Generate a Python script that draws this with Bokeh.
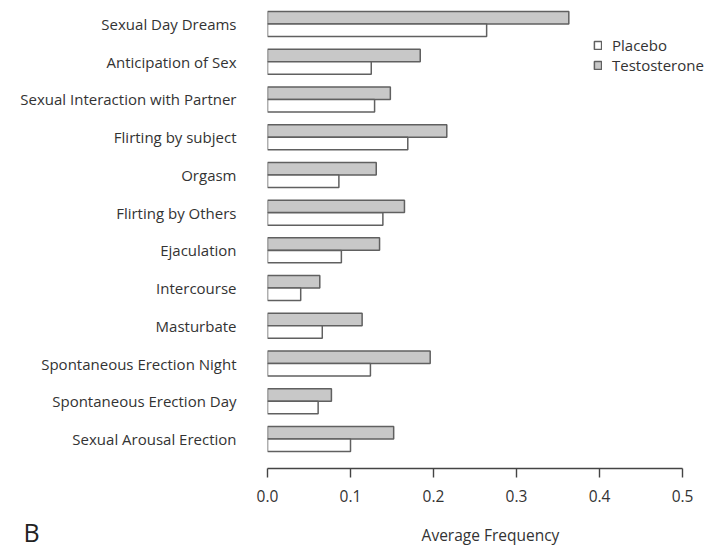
from bokeh.plotting import figure
from bokeh.models import (ColumnDataSource, Range1d, FixedTicker, Legend, LegendItem,
                          Title, NumeralTickFormatter)
from bokeh.transform import dodge
from bokeh.embed import file_html
from bokeh.resources import INLINE

categories = [
    "Sexual Day Dreams",
    "Anticipation of Sex",
    "Sexual Interaction with Partner",
    "Flirting by subject",
    "Orgasm",
    "Flirting by Others",
    "Ejaculation",
    "Intercourse",
    "Masturbate",
    "Spontaneous Erection Night",
    "Spontaneous Erection Day",
    "Sexual Arousal Erection",
]
placebo = [0.264, 0.125, 0.129, 0.169, 0.086, 0.139, 0.089, 0.040, 0.066, 0.124, 0.061, 0.100]
testosterone = [0.363, 0.184, 0.148, 0.216, 0.131, 0.165, 0.135, 0.063, 0.114, 0.196, 0.077, 0.152]
x_ticks = [0.0, 0.1, 0.2, 0.3, 0.4, 0.5]

n = len(categories)
pos = [n - 1 - i for i in range(n)]

src = ColumnDataSource(dict(cat=categories, pos=pos, placebo=placebo, testosterone=testosterone))

FONT = "Open Sans"
TXT = "#333333"

p = figure(width=713, height=550, output_backend="svg", toolbar_location=None,
           x_range=Range1d(0, 0.5373), y_range=Range1d(-0.782, n - 1 + 0.623),
           min_border_left=267, min_border_right=0, min_border_top=0, min_border_bottom=82)
p.outline_line_color = None
p.xgrid.visible = False
p.ygrid.visible = False
p.background_fill_color = "white"
p.border_fill_color = "white"

bar_h = 0.331
off = 0.166
rt = p.hbar(y=dodge("pos", off), right="testosterone", left=0, height=bar_h, source=src,
            fill_color="#c8c8c8", line_color="#606060", line_width=1.5)
rp = p.hbar(y=dodge("pos", -off), right="placebo", left=0, height=bar_h, source=src,
            fill_color="white", line_color="#606060", line_width=1.5)

# x axis
xa = p.xaxis[0]
xa.bounds = (0, 0.5)
xa.ticker = FixedTicker(ticks=x_ticks)
xa.formatter = NumeralTickFormatter(format="0.0")
xa.axis_line_color = "#444444"
xa.axis_line_width = 1.4
xa.major_tick_line_color = "#444444"
xa.major_tick_line_width = 1.4
xa.major_tick_in = 0
xa.major_tick_out = 9
xa.minor_tick_line_color = None
xa.major_label_standoff = 12
xa.major_label_text_font = FONT
xa.major_label_text_font_size = "15.5px"
xa.major_label_text_color = TXT
xa.axis_label = "Average Frequency"
xa.axis_label_text_font = FONT
xa.axis_label_text_font_style = "normal"
xa.axis_label_text_font_size = "15.5px"
xa.axis_label_text_color = TXT
xa.axis_label_standoff = 19

# y axis
ya = p.yaxis[0]
ya.ticker = FixedTicker(ticks=pos)
ya.major_label_overrides = {pp: c for pp, c in zip(pos, categories)}
ya.axis_line_color = None
ya.major_tick_line_color = None
ya.minor_tick_line_color = None
ya.major_label_standoff = 25
ya.major_label_text_font = FONT
ya.major_label_text_font_size = "15px"
ya.major_label_text_color = TXT

legend = Legend(items=[LegendItem(label="Placebo", renderers=[rp]),
                       LegendItem(label="Testosterone", renderers=[rt])],
                location=(326, 393), orientation="vertical",
                glyph_width=9, glyph_height=10, label_height=18, label_standoff=10,
                spacing=0, padding=0, margin=0, border_line_color=None,
                background_fill_alpha=0, label_text_font=FONT,
                label_text_font_size="15px", label_text_color=TXT)
p.add_layout(legend, "center")

p.add_layout(Title(text="B", align="left", offset=-244, vertical_align="top",
                   standoff=-68,
                   text_font=FONT, text_font_size="25px", text_font_style="normal",
                   text_color="#222222"), "below")

open("out.html", "w").write(file_html(p, INLINE))
